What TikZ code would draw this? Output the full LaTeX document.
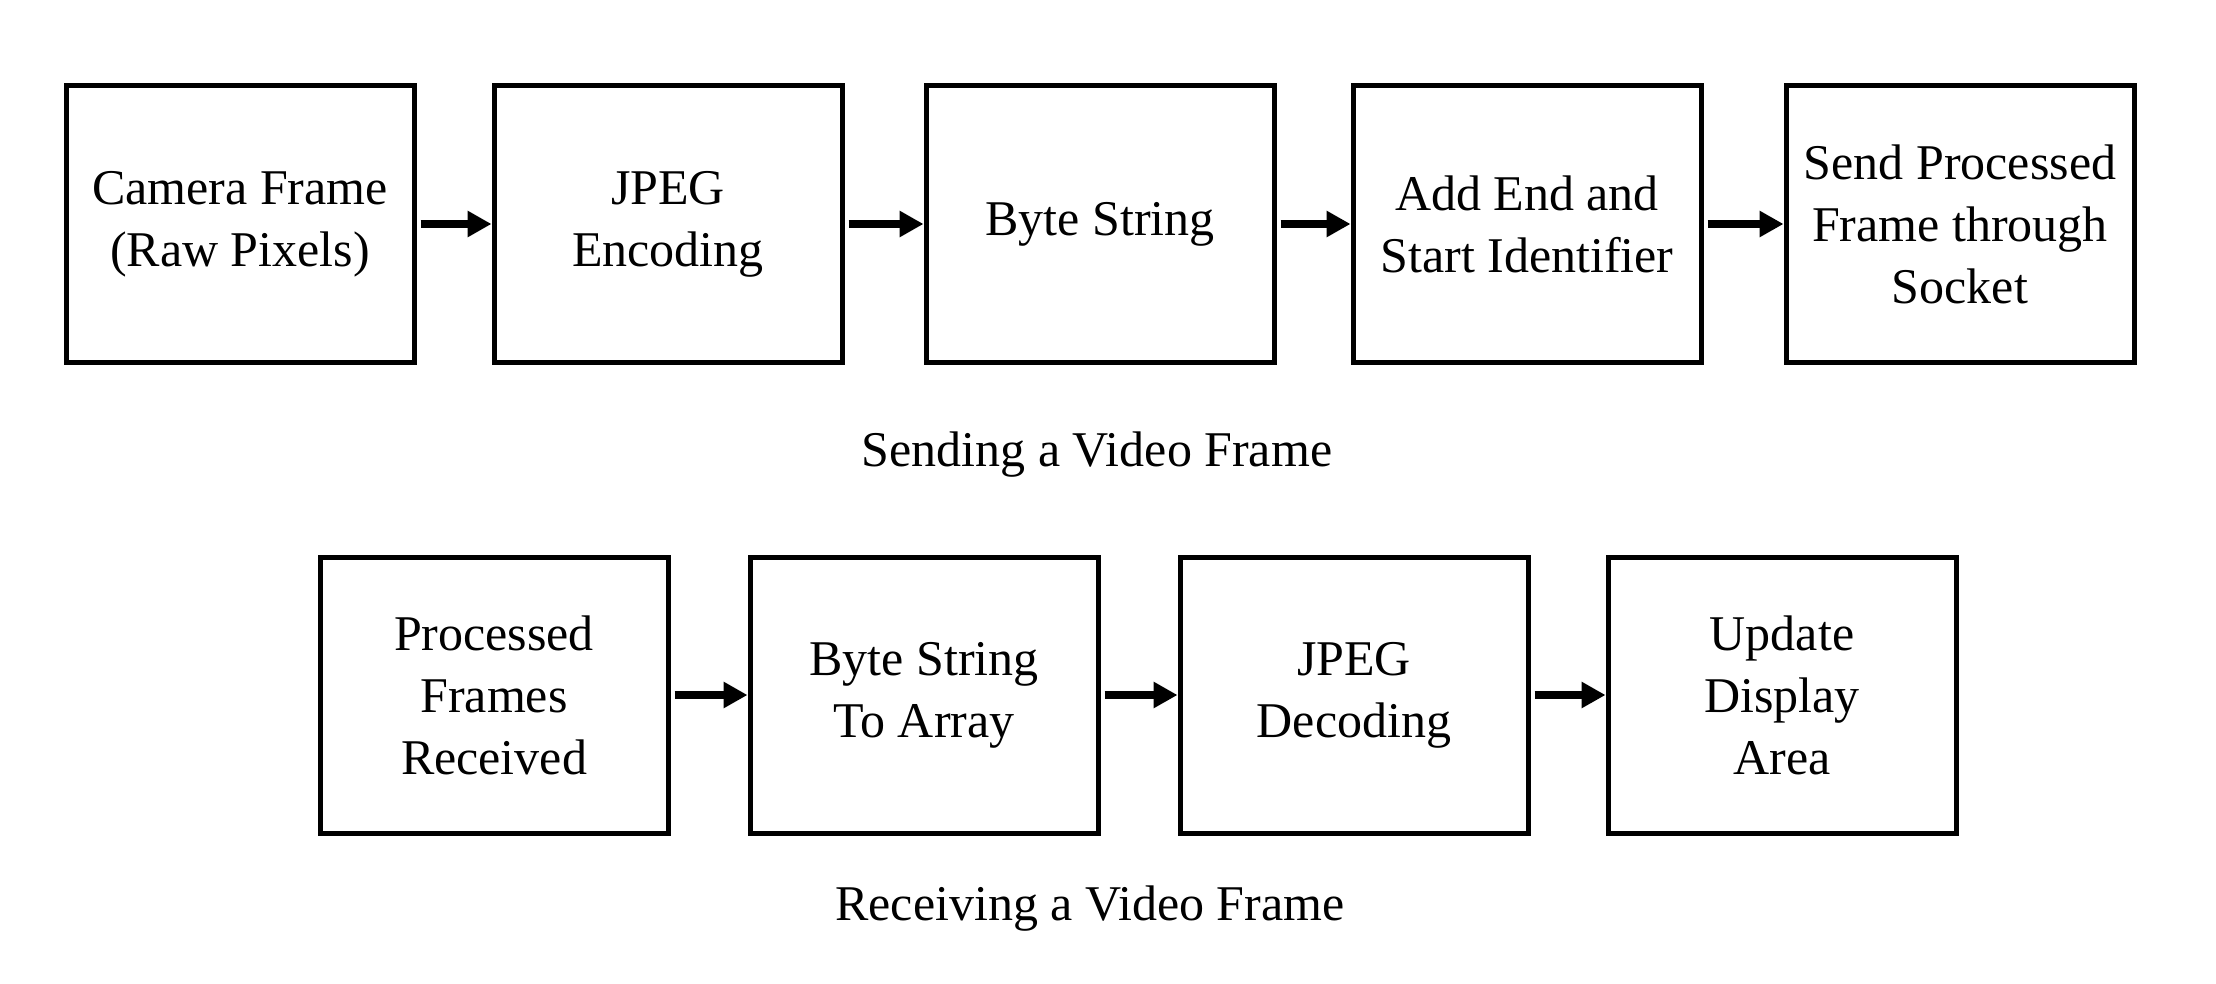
\documentclass[tikz,border=0pt]{standalone}
\usepackage{fontspec}
\setmainfont{Liberation Serif}
\usetikzlibrary{arrows.meta}
\begin{document}
\begin{tikzpicture}[x=0.5pt,y=-0.5pt,
   box/.style={draw,line width=2.5pt,minimum width=174pt,minimum height=138pt,
     inner sep=0pt,align=center,font=\fontsize{25}{31}\selectfont},
   flow/.style={line width=4pt,-{Triangle[length=12pt,width=12.5pt]},shorten <=2pt},
   caption/.style={font=\fontsize{25}{31}\selectfont}]
   \useasboundingbox (0,0) rectangle (2216,984);

   % sending
   \node[box] (cam)  at (240,224)  {Camera Frame\\(Raw Pixels)};
   \node[box] (enc)  at (668,224)  {JPEG\\Encoding};
   \node[box] (byte) at (1100,224) {Byte String};
   \node[box] (ids)  at (1527,224) {Add End and\\Start Identifier};
   \node[box] (send) at (1960,224) {Send Processed\\Frame through\\Socket};
   \draw[flow] (cam) -- (enc);
   \draw[flow] (enc) -- (byte);
   \draw[flow] (byte) -- (ids);
   \draw[flow] (ids) -- (send);
   \node[caption] (sendcap) at (1097,455) {Sending a Video Frame};

   % receiving
   \node[box] (recv) at (494,695)  {Processed\\Frames\\Received};
   \node[box] (arr)  at (924,695)  {Byte String\\To Array};
   \node[box] (dec)  at (1354,695) {JPEG\\Decoding};
   \node[box] (disp) at (1782,695) {Update\\Display\\Area};
   \draw[flow] (recv) -- (arr);
   \draw[flow] (arr) -- (dec);
   \draw[flow] (dec) -- (disp);
   \node[caption] (recvcap) at (1090,909) {Receiving a Video Frame};
\end{tikzpicture}
\end{document}
